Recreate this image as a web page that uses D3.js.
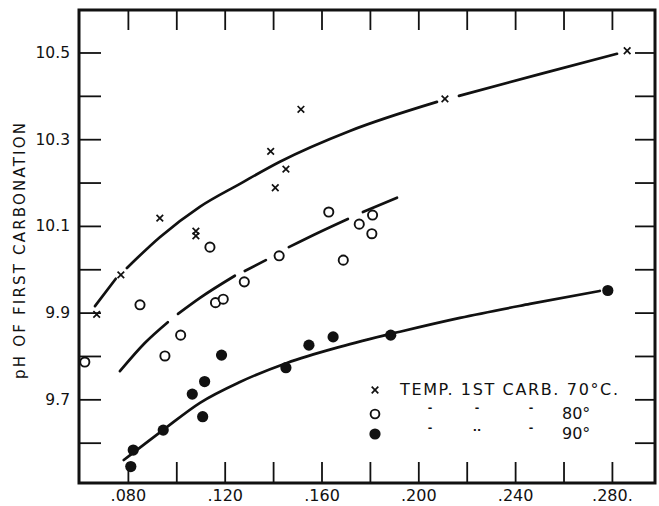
<!DOCTYPE html>
<html>
<head>
<meta charset="utf-8">
<script src="https://cdn.jsdelivr.net/npm/d3@7"></script>
<style>
  html, body { margin: 0; padding: 0; background: #fff; }
  svg { display: block; }
  text { font-family: "DejaVu Sans", sans-serif; fill: #111; }
</style>
</head>
<body>
<svg id="chart" width="659" height="506"></svg>
<script>
// ---------- data ----------
const xTicks = [0.08, 0.10, 0.12, 0.14, 0.16, 0.18, 0.20, 0.22, 0.24, 0.26, 0.28];
const xLabelValues = [0.08, 0.12, 0.16, 0.20, 0.24, 0.28];
const xLabelText = [".080", ".120", ".160", ".200", ".240", ".280."];
const yTicks = [9.6, 9.7, 9.8, 9.9, 10.0, 10.1, 10.2, 10.3, 10.4, 10.5];
const yLabelValues = [9.7, 9.9, 10.1, 10.3, 10.5];
const yLabelText = ["9.7", "9.9", "10.1", "10.3", "10.5"];

// x = alkalinity, y = pH of first carbonation
const temp70 = [
  [0.0671, 9.896], [0.0771, 9.987], [0.0932, 10.118], [0.1081, 10.088], [0.1081, 10.077],
  [0.1390, 10.272], [0.1409, 10.188], [0.1453, 10.231], [0.1515, 10.369], [0.2110, 10.393],
  [0.2863, 10.504]
];
const temp80 = [
  [0.0622, 9.786], [0.0850, 9.918], [0.1018, 9.848], [0.0953, 9.800], [0.1139, 10.051],
  [0.1162, 9.923], [0.1194, 9.931], [0.1281, 9.971], [0.1425, 10.031], [0.1630, 10.132],
  [0.1690, 10.021], [0.1756, 10.104], [0.1811, 10.125], [0.1808, 10.082]
];
const temp90 = [
  [0.0812, 9.545], [0.0822, 9.583], [0.0946, 9.629], [0.1066, 9.712], [0.1117, 9.741],
  [0.1109, 9.660], [0.1187, 9.802], [0.1453, 9.773], [0.1548, 9.825], [0.1648, 9.844],
  [0.1886, 9.848], [0.2783, 9.951]
];

// hand-drawn fitted curves (pen lifts kept as separate pieces)
const curve70 = [
  [[0.0664, 9.915], [0.0750, 9.978]],
  [[0.0796, 10.003], [0.0932, 10.074], [0.1097, 10.144], [0.1263, 10.197], [0.1428, 10.248],
   [0.1717, 10.319], [0.2077, 10.386]],
  [[0.2168, 10.400], [0.2502, 10.450], [0.2821, 10.497]]
];
const curve80 = [
  [[0.0767, 9.765], [0.0870, 9.830], [0.0965, 9.878]],
  [[0.1007, 9.897], [0.1098, 9.934], [0.1242, 9.985]],
  [[0.1283, 9.996], [0.1370, 10.021]],
  [[0.1465, 10.051], [0.1593, 10.086], [0.1709, 10.116]],
  [[0.1771, 10.132], [0.1912, 10.165]]
];
const curve90 = [
  [[0.0783, 9.560], [0.0945, 9.629], [0.1098, 9.692], [0.1263, 9.740], [0.1457, 9.784],
   [0.1676, 9.821], [0.1924, 9.856], [0.2172, 9.888], [0.2461, 9.920], [0.2750, 9.950]]
];

const yTitle = "pH OF FIRST CARBONATION";
const legendTitle = "TEMP. 1ST CARB. 70°C.";
const legendRows = ["80°", "90°"];

// ---------- layout ----------
const W = 659, H = 506;
const margin = { top: 10, right: 4, bottom: 23, left: 79 };
const svg = d3.select("#chart");
const ink = "#111";

const x = d3.scaleLinear().domain([0.0598, 0.2978]).range([margin.left, W - margin.right]);
const y = d3.scaleLinear().domain([9.507, 10.598]).range([H - margin.bottom, margin.top]);

const xFmt = d => { const i = xLabelValues.findIndex(v => Math.abs(v - d) < 1e-9); return i >= 0 ? xLabelText[i] : ""; };
const yFmt = d => { const i = yLabelValues.findIndex(v => Math.abs(v - d) < 1e-9); return i >= 0 ? yLabelText[i] : ""; };

// ---------- curves ----------
const line = d3.line().x(d => x(d[0])).y(d => y(d[1])).curve(d3.curveMonotoneX);
[curve70, curve80, curve90].forEach(pieces => {
  svg.append("g").selectAll("path").data(pieces).join("path")
    .attr("d", line)
    .attr("fill", "none")
    .attr("stroke", ink)
    .attr("stroke-width", 2.7)
    .attr("stroke-linecap", "round");
});

// ---------- axes ----------
const gB = svg.append("g").attr("transform", `translate(0,${H - margin.bottom})`)
  .call(d3.axisBottom(x).tickValues(xTicks).tickFormat(xFmt).tickSizeInner(-21).tickSizeOuter(0).tickPadding(7));
const gT = svg.append("g").attr("transform", `translate(0,${margin.top})`)
  .call(d3.axisTop(x).tickValues(xTicks).tickFormat("").tickSizeInner(-20).tickSizeOuter(0));
const gL = svg.append("g").attr("transform", `translate(${margin.left},0)`)
  .call(d3.axisLeft(y).tickValues(yTicks).tickFormat(yFmt).tickSizeInner(-22).tickSizeOuter(0).tickPadding(9));
const gR = svg.append("g").attr("transform", `translate(${W - margin.right},0)`)
  .call(d3.axisRight(y).tickValues(yTicks).tickFormat("").tickSizeInner(-20).tickSizeOuter(0));

[gB, gT, gL, gR].forEach(g => {
  g.select(".domain").remove();
  g.selectAll(".tick line").attr("stroke", ink).attr("stroke-width", 1.8);
  g.selectAll(".tick text").attr("fill", ink).style("font-family", '"DejaVu Sans", sans-serif');
});
gB.selectAll(".tick text").attr("font-size", 16);
gL.selectAll(".tick text").attr("font-size", 15.5);

// frame
svg.append("rect")
  .attr("x", margin.left).attr("y", margin.top)
  .attr("width", W - margin.right - margin.left)
  .attr("height", H - margin.bottom - margin.top)
  .attr("fill", "none").attr("stroke", ink).attr("stroke-width", 3);

// ---------- markers ----------
const crossPath = s => `M${-s},${-s}L${s},${s}M${-s},${s}L${s},${-s}`;
svg.append("g").selectAll("path").data(temp70).join("path")
  .attr("transform", d => `translate(${x(d[0])},${y(d[1])})`)
  .attr("d", crossPath(3.3))
  .attr("stroke", ink).attr("stroke-width", 1.7).attr("fill", "none");

svg.append("g").selectAll("circle").data(temp80).join("circle")
  .attr("cx", d => x(d[0])).attr("cy", d => y(d[1])).attr("r", 4.6)
  .attr("fill", "#fff").attr("stroke", ink).attr("stroke-width", 1.9);

svg.append("g").selectAll("circle").data(temp90).join("circle")
  .attr("cx", d => x(d[0])).attr("cy", d => y(d[1])).attr("r", 5.6)
  .attr("fill", ink);

// ---------- y title ----------
svg.append("text")
  .attr("transform", "translate(25,251) rotate(-90)")
  .attr("text-anchor", "middle")
  .attr("font-size", 15)
  .attr("textLength", 256).attr("lengthAdjust", "spacing")
  .text(yTitle);

// ---------- legend ----------
const lg = svg.append("g");
lg.append("path").attr("transform", "translate(375,390)").attr("d", crossPath(3.3))
  .attr("stroke", ink).attr("stroke-width", 1.7).attr("fill", "none");
lg.append("circle").attr("cx", 375).attr("cy", 414).attr("r", 4.4)
  .attr("fill", "#fff").attr("stroke", ink).attr("stroke-width", 1.9);
lg.append("circle").attr("cx", 375).attr("cy", 434).attr("r", 5.6).attr("fill", ink);
lg.append("text").attr("x", 400).attr("y", 395).attr("font-size", 16)
  .attr("textLength", 218).attr("lengthAdjust", "spacing").text(legendTitle);
const dittoX = [430, 477, 531];
const dittoGlyph = [["-", "-", "-"], ["-", "..", "-"]];
legendRows.forEach((t, i) => {
  const yy = 419 + i * 20;
  dittoGlyph[i].forEach((g, j) => {
    lg.append("text").attr("x", dittoX[j]).attr("y", yy - 8).attr("text-anchor", "middle")
      .attr("font-size", 11).attr("font-weight", "bold").text(g);
  });
  lg.append("text").attr("x", 562).attr("y", yy).attr("font-size", 16).text(t);
});
</script>
</body>
</html>
